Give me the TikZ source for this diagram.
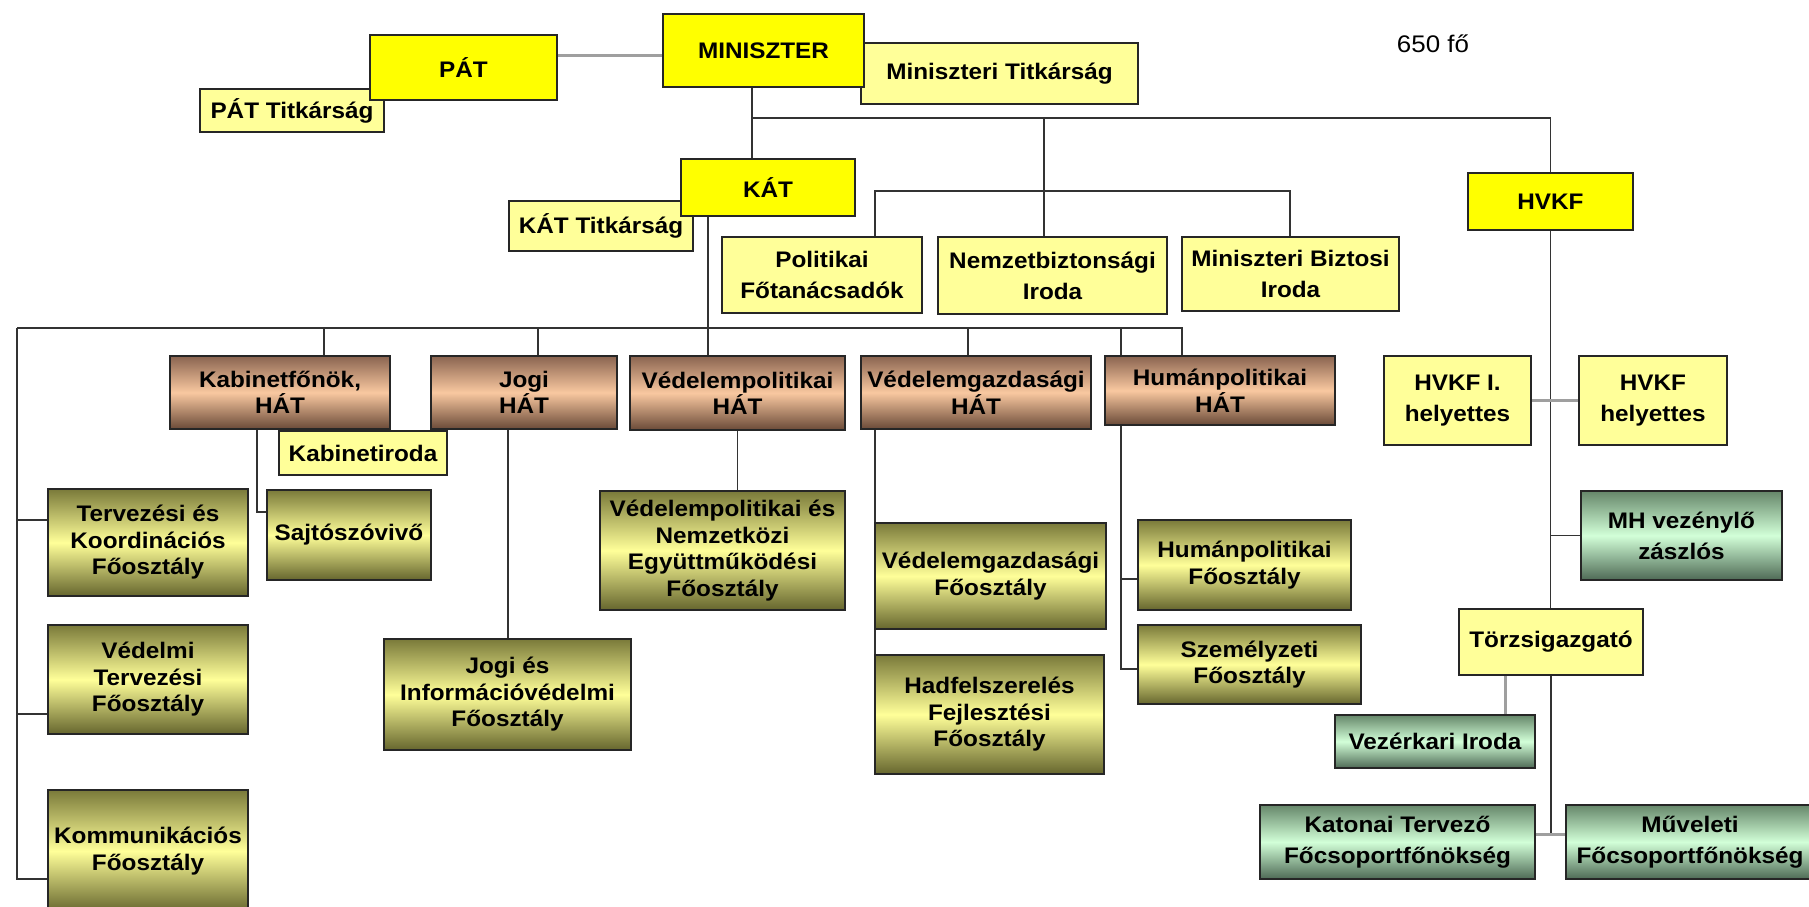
\documentclass[tikz,border=0pt]{standalone}
\usepackage{fontspec}
\setmainfont{Liberation Sans}[FakeStretch=1.08]
\usetikzlibrary{backgrounds}

\definecolor{ybright}{HTML}{FFFF00}
\definecolor{ypale}{HTML}{FFFF99}
\definecolor{hatTop}{HTML}{8A6450}
\definecolor{hatMid}{HTML}{F9C8A0}
\definecolor{hatBot}{HTML}{6A4A38}
\definecolor{fooTop}{HTML}{7A7A3A}
\definecolor{fooMid}{HTML}{FFFF99}
\definecolor{fooBot}{HTML}{66662E}
\definecolor{grnTop}{HTML}{66876A}
\definecolor{grnMid}{HTML}{D2FFD8}
\definecolor{grnBot}{HTML}{4E6A55}
\definecolor{lineC}{HTML}{333333}

\newcommand\boxfont{\fontsize{22.5}{26.5}\selectfont\bfseries}
\newcommand\wideboxfont{\fontsize{22.5}{31}\selectfont\bfseries}

% unit box given by its corners: name, x1, y1, x2, y2, style, text
\newcommand\unitbox[7]{%
  \node[#6, minimum width={(#4-#2)*1pt}, minimum height={(#5-#3)*1pt}]
    (#1) at ({(#2+#4)/2},{(#3+#5)/2}) {#7};}

\tikzset{
  x=1pt, y=-1pt,
  base/.style={draw=black!85, line width=1.6pt, inner sep=0pt, outer sep=0pt,
               align=center, font=\boxfont},
  lead/.style={base, fill=ybright},
  office/.style={base, fill=ypale, font=\wideboxfont},
  hat/.style={base, top color=hatTop, bottom color=hatBot, middle color=hatMid},
  dept/.style={base, top color=fooTop, bottom color=fooBot, middle color=fooMid},
  mil/.style={base, top color=grnTop, bottom color=grnBot, middle color=grnMid,
              font=\wideboxfont},
  conn/.style={draw=lineC, line width=1.4pt},
  connG/.style={draw=gray!75, line width=3pt},
}

\begin{document}
\begin{tikzpicture}
\clip (0,0) rectangle (1809,906);

% secondary offices (drawn under their heads)
\unitbox{pattit}{200}{89}{384}{132}{office}{PÁT Titkárság}
\unitbox{mintit}{861}{43}{1138}{104}{office}{Miniszteri Titkárság}
\unitbox{kattit}{509}{201}{693}{251}{office}{KÁT Titkárság}

% leadership
\unitbox{pat}{370}{35}{557}{100}{lead}{PÁT}
\unitbox{min}{663}{14}{864}{87}{lead}{MINISZTER}
\unitbox{kat}{681}{159}{855}{216}{lead}{KÁT}
\unitbox{hvkf}{1468}{173}{1633}{230}{lead}{HVKF}

\node[font=\fontsize{24}{28}\selectfont] (letszam) at (1433,44) {650 fő};

% offices under the minister
\unitbox{pol}{722}{237}{922}{313}{office}{Politikai\\Főtanácsadók}
\unitbox{nbi}{938}{237}{1167}{314}{office}{Nemzetbiztonsági\\Iroda}
\unitbox{mbi}{1182}{237}{1399}{311}{office}{Miniszteri Biztosi\\Iroda}

% deputy state secretaries
\unitbox{kab}{170}{356}{390}{429}{hat}{Kabinetfőnök,\\HÁT}
\unitbox{jhat}{431}{356}{617}{429}{hat}{Jogi\\HÁT}
\unitbox{vpol}{630}{356}{845}{430}{hat}{Védelempolitikai\\HÁT}
\unitbox{vgh}{861}{356}{1091}{429}{hat}{Védelemgazdasági\\HÁT}
\unitbox{hh}{1105}{356}{1335}{425}{hat}{Humánpolitikai\\HÁT}

\unitbox{hv1}{1384}{356}{1531}{445}{office}{HVKF I.\\helyettes}
\unitbox{hv2}{1579}{356}{1727}{445}{office}{HVKF\\helyettes}
\unitbox{kabiroda}{279}{431}{447}{475}{office}{Kabinetiroda}

% departments
\unitbox{terv}{48}{489}{248}{596}{dept}{Tervezési és\\Koordinációs\\Főosztály}
\unitbox{sajto}{267}{490}{431}{580}{dept}{Sajtószóvivő}
\unitbox{vne}{600}{491}{845}{610}{dept}{Védelempolitikai és\\Nemzetközi\\Együttműködési\\Főosztály}
\unitbox{vgf}{875}{523}{1106}{629}{dept}{Védelemgazdasági\\Főosztály}
\unitbox{hpf}{1138}{520}{1351}{610}{dept}{Humánpolitikai\\Főosztály}
\unitbox{vtf}{48}{625}{248}{734}{dept}{Védelmi\\Tervezési\\Főosztály}
\unitbox{jinfo}{384}{639}{631}{750}{dept}{Jogi és\\Információvédelmi\\Főosztály}
\unitbox{hadf}{875}{655}{1104}{774}{dept}{Hadfelszerelés\\Fejlesztési\\Főosztály}
\unitbox{szem}{1138}{625}{1361}{704}{dept}{Személyzeti\\Főosztály}
\unitbox{komm}{48}{790}{248}{912}{dept}{Kommunikációs\\Főosztály}

% general staff
\unitbox{mh}{1581}{491}{1782}{580}{mil}{MH vezénylő\\zászlós}
\unitbox{torzs}{1459}{609}{1643}{675}{office}{Törzsigazgató}
\unitbox{vez}{1335}{715}{1535}{768}{mil}{Vezérkari Iroda}
\unitbox{kat2}{1260}{805}{1535}{879}{mil}{Katonai Tervező\\Főcsoportfőnökség}
\unitbox{muv}{1566}{805}{1814}{879}{mil}{Műveleti\\Főcsoportfőnökség}

% bus and branch points
\coordinate (patline) at (0,55);
\coordinate (spine) at (752,118);
\coordinate (nbx) at (1044,118);
\coordinate (brkL) at (875,191);
\coordinate (brkR) at (1290,191);
\coordinate (katx) at (708,0);
\coordinate (busL) at (17,328);
\coordinate (busR) at (1182,328);
\coordinate (kabx) at (324,328);
\coordinate (jogx) at (538,328);
\coordinate (vgx) at (968,328);
\coordinate (hhx) at (1121,328);
\coordinate (tervy) at (0,520);
\coordinate (vtfy) at (0,714);
\coordinate (kommy) at (17,879);
\coordinate (sajtoy) at (257,512);
\coordinate (jinfox) at (508,0);
\coordinate (vgfx) at (875,0);
\coordinate (hpfy) at (0,579);
\coordinate (szemy) at (1121,669);
\coordinate (vezx) at (1505,0);
\coordinate (muvy) at (0,834);

\begin{scope}[on background layer]
  \fill[white] (0,0) rectangle (1809,906);

  % minister level
  \draw[connG] (pat.east |- patline) -- (min.west |- patline);
  \draw[conn] (min.south -| spine) -- (kat.north -| spine);
  \draw[conn] (spine) -| (hvkf.north);
  \draw[conn] (nbx) -- (nbi.north -| nbx);
  \draw[conn] (pol.north -| brkL) -- (brkL) -- (brkR) -- (mbi.north -| brkR);

  % state secretary level
  \draw[conn] (kat.south -| katx) -- (vpol.north -| katx);
  \draw[conn] (busL) -- (busR) -- (hh.north -| busR);
  \draw[conn] (kabx) -- (kab.north -| kabx);
  \draw[conn] (jogx) -- (jhat.north -| jogx);
  \draw[conn] (vgx) -- (vgh.north -| vgx);
  \draw[conn] (hhx) -- (hh.north -| hhx);

  % directly subordinated departments
  \draw[conn] (busL) -- (kommy) -- (komm.west |- kommy);
  \draw[conn] (busL |- tervy) -- (terv.west |- tervy);
  \draw[conn] (busL |- vtfy) -- (vtf.west |- vtfy);

  % departments under the deputies
  \draw[conn] (kab.south -| sajtoy) -- (sajtoy) -- (sajto.west |- sajtoy);
  \draw[conn] (jhat.south -| jinfox) -- (jinfo.north -| jinfox);
  \draw[conn] (vpol.south) -- (vne.north -| vpol.south);
  \draw[conn] (vgh.south -| vgfx) -- (hadf.north -| vgfx);
  \draw[conn] (hh.south -| hhx) -- (szemy) -- (szem.west |- szemy);
  \draw[conn] (hpf.west |- hpfy) -- (hhx |- hpfy);

  % general staff
  \draw[conn] (hvkf.south) -- (torzs.north -| hvkf.south);
  \draw[connG] (hv1.east) -- (hv2.west);
  \draw[conn] (mh.west) -- (mh.west -| hvkf.south);
  \draw[conn] (torzs.south) -- (torzs.south |- muvy);
  \draw[connG] (torzs.south -| vezx) -- (vez.north -| vezx);
  \draw[connG] (kat2.east |- muvy) -- (muv.west |- muvy);
\end{scope}
\end{tikzpicture}
\end{document}
